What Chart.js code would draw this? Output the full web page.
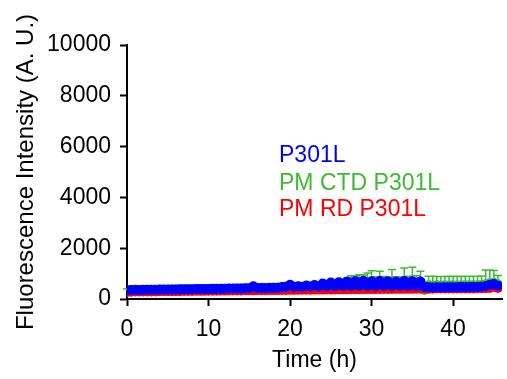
<!DOCTYPE html>
<html>
<head>
<meta charset="utf-8">
<script src="https://cdn.jsdelivr.net/npm/chart.js@4"></script>
<style>
  html, body { margin: 0; padding: 0; background: #ffffff; }
  #wrap { width: 507px; height: 379px; }
</style>
</head>
<body>
<div id="wrap"><canvas id="c" width="507" height="379"></canvas></div>
<script>
// ---- data ----
const TIME_H = [0,0.5,1,1.5,2,2.5,3,3.5,4,4.5,5,5.5,6,6.5,7,7.5,8,8.5,9,9.5,10,10.5,11,11.5,12,12.5,13,13.5,14,14.5,15,15.5,16,16.5,17,17.5,18,18.5,19,19.5,20,20.5,21,21.5,22,22.5,23,23.5,24,24.5,25,25.5,26,26.5,27,27.5,28,28.5,29,29.5,30,30.5,31,31.5,32,32.5,33,33.5,34,34.5,35,35.5,36,36.5,37,37.5,38,38.5,39,39.5,40,40.5,41,41.5,42,42.5,43,43.5,44,44.5,45,45.5];

const P301L = [340,355,360,355,360,360,365,365,370,370,370,375,375,380,380,385,385,390,390,395,395,400,400,405,405,410,410,415,415,420,425,500,430,435,435,440,445,445,470,480,560,480,500,485,530,490,550,495,610,505,650,505,660,510,690,515,700,520,715,510,700,515,710,520,700,515,690,520,710,515,700,520,690,470,460,455,460,455,460,465,460,465,470,465,470,475,470,480,500,560,590,520];

const PM_CTD_P301L = [330,345,350,350,355,355,360,360,365,365,365,370,370,375,375,380,380,385,385,390,390,395,395,400,400,405,405,410,410,415,420,430,425,430,430,435,440,440,450,450,480,460,480,470,500,480,510,490,540,560,520,600,560,600,580,640,600,650,560,640,660,580,650,640,600,660,640,590,670,650,620,660,650,360,540,530,540,530,540,535,540,535,540,540,545,540,545,550,580,620,640,580];

const PM_CTD_P301L_SD = [60,60,55,60,60,55,60,60,60,55,60,60,60,60,55,60,60,60,60,60,55,60,60,60,60,60,55,60,60,60,60,60,65,60,60,60,60,60,65,60,70,60,70,60,70,70,70,70,80,90,120,150,180,200,250,280,300,300,380,380,450,300,440,250,260,500,240,280,550,250,630,260,440,150,360,370,350,360,350,360,350,360,350,360,350,360,350,360,560,520,480,350];

const PM_RD_P301L = [280,290,295,295,295,300,300,300,305,305,305,310,310,310,315,315,315,320,320,320,325,325,325,330,330,330,335,335,335,340,340,340,345,345,345,350,350,350,355,355,360,360,360,365,365,365,370,370,370,375,375,375,380,380,380,385,385,385,390,390,390,390,395,395,395,395,400,400,400,400,400,405,405,405,405,405,410,410,410,410,410,415,415,415,415,415,420,420,420,430,480,430];

const X_TICK_STEP = 10;
const Y_TICK_STEP = 2000;

const LEGEND_LABELS = ['P301L', 'PM CTD P301L', 'PM RD P301L'];

// ---- styling ----
const BLUE = '#0000ff';
const GREEN = '#3cbb30';
const RED = '#ff0000';
const FONT = "'Liberation Sans', Arial, sans-serif";
const FS = 23;
const R = 5;

function pts(xs, ys) { return xs.map((x, i) => ({ x: x, y: ys[i] })); }

// upper-only error bars (mean + SD), drawn right after their dataset
const errorBars = {
  id: 'errorBars',
  afterDatasetDraw(chart, args) {
    const ds = chart.data.datasets[args.index];
    if (!ds.sd) return;
    const ctx = chart.ctx;
    const xs = chart.scales.x, ys = chart.scales.y;
    ctx.save();
    ctx.strokeStyle = ds.errColor;
    ctx.lineWidth = 1.5;
    ctx.beginPath();
    ds.data.forEach((p, i) => {
      const px = xs.getPixelForValue(p.x);
      const yt = ys.getPixelForValue(p.y + ds.sd[i]);
      const ym = ys.getPixelForValue(p.y);
      ctx.moveTo(px, yt); ctx.lineTo(px, ym);
      ctx.moveTo(px - 4, yt); ctx.lineTo(px + 4, yt);
    });
    ctx.stroke();
    ctx.restore();
  }
};

const textLegend = {
  id: 'textLegend',
  afterDraw(chart) {
    const ctx = chart.ctx;
    const colors = [BLUE, GREEN, RED];
    const baselines = [162, 189.5, 216];
    ctx.save();
    ctx.font = FS + 'px ' + FONT;
    ctx.textAlign = 'left';
    ctx.textBaseline = 'alphabetic';
    LEGEND_LABELS.forEach((t, i) => {
      ctx.fillStyle = colors[i];
      ctx.fillText(t, 279, baselines[i]);
    });
    ctx.restore();
  }
};

const axisCommon = {
  grid: { display: true, drawOnChartArea: false, drawTicks: true, tickLength: 7, tickWidth: 2, tickColor: '#000' },
  border: { display: true, color: '#000', width: 2 },
};

new Chart(document.getElementById('c'), {
  type: 'scatter',
  data: {
    datasets: [
      { label: LEGEND_LABELS[0], data: pts(TIME_H, P301L), backgroundColor: BLUE, borderColor: BLUE, pointRadius: R, pointBorderWidth: 0, showLine: false, order: 1 },
      { label: LEGEND_LABELS[2], data: pts(TIME_H, PM_RD_P301L), backgroundColor: RED, borderColor: RED, pointRadius: R, pointBorderWidth: 0, showLine: false, order: 2 },
      { label: LEGEND_LABELS[1], data: pts(TIME_H, PM_CTD_P301L), sd: PM_CTD_P301L_SD, errColor: GREEN, backgroundColor: GREEN, borderColor: GREEN, pointRadius: R, pointBorderWidth: 0, showLine: false, order: 3 }
    ]
  },
  options: {
    responsive: false,
    animation: false,
    devicePixelRatio: 1,
    layout: { padding: { left: 0, top: 45, right: 3, bottom: 0 } },
    plugins: { legend: { display: false }, tooltip: { enabled: false } },
    scales: {
      x: Object.assign({}, axisCommon, {
        type: 'linear', min: 0, max: 46,
        ticks: { stepSize: X_TICK_STEP, includeBounds: false, color: '#000', font: { family: FONT, size: FS }, padding: 10, maxRotation: 0, callback: v => String(v) },
        title: { display: true, text: 'Time (h)', color: '#000', font: { family: FONT, size: FS }, padding: { top: 0, bottom: 5 } },
        afterFit(s) { s.height = 80; }
      }),
      y: Object.assign({}, axisCommon, {
        type: 'linear', min: 0, max: 10000,
        ticks: { stepSize: Y_TICK_STEP, includeBounds: false, color: '#000', font: { family: FONT, size: FS }, padding: 9, callback: v => String(v) },
        title: { display: true, text: 'Fluorescence Intensity (A. U.)', color: '#000', font: { family: FONT, size: 24 }, padding: { top: 12, bottom: 0 } },
        afterFit(s) { s.width = 127; }
      })
    }
  },
  plugins: [errorBars, textLegend]
});
</script>
</body>
</html>
